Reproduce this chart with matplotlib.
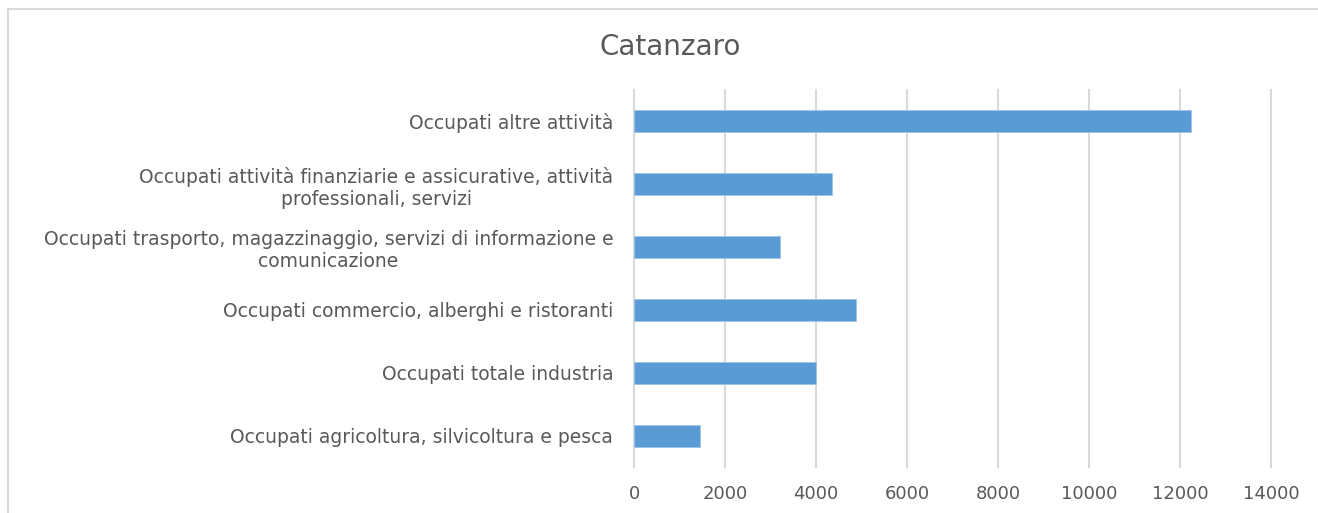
import matplotlib.pyplot as plt
from matplotlib.patches import Rectangle

categorie = [
    "Occupati agricoltura, silvicoltura e pesca",
    "Occupati totale industria",
    "Occupati commercio, alberghi e ristoranti",
    "Occupati trasporto, magazzinaggio, servizi di informazione e\ncomunicazione",
    "Occupati attività finanziarie e assicurative, attività\nprofessionali, servizi",
    "Occupati altre attività",
]
occupati = [1460, 3990, 4890, 3200, 4350, 12250]
xticks = [0, 2000, 4000, 6000, 8000, 10000, 12000, 14000]

plt.rcParams['font.family'] = ['DejaVu Sans']
grey = '#595959'

fig = plt.figure(figsize=(13.18, 5.13), dpi=100)
ax = fig.add_axes([634 / 1318, 1 - 467 / 513, 637 / 1318, 377 / 513])

ax.barh(range(len(categorie)), occupati, height=0.35, color='#5B9BD5',
        edgecolor='#9DC3E6', linewidth=0.6, zorder=3)

ax.set_xlim(0, 14000)
ax.set_ylim(-0.5, len(categorie) - 0.5)
ax.set_xticks(xticks)
ax.set_xticklabels([str(v) for v in xticks])
ax.set_yticks(range(len(categorie)))
ax.set_yticklabels(categorie, multialignment='center')
ax.grid(axis='x', color='#D9D9D9', linewidth=1.5, zorder=0)
for gl in ax.get_xgridlines():
    gl.set_clip_on(False)
ax.tick_params(axis='y', length=0, labelsize=13.5, colors=grey, pad=15)
ax.tick_params(axis='x', length=0, labelsize=13, colors=grey, pad=13)
for s in ax.spines.values():
    s.set_visible(False)

fig.text(670 / 1318, 1 - 47 / 513, "Catanzaro", ha='center', va='center',
         fontsize=20, color=grey)

fig.patches.append(Rectangle((8 / 1318, -0.1), 1.2, 1.1 - 9 / 513,
                             transform=fig.transFigure, fill=False,
                             edgecolor='#D9D9D9', linewidth=1.5))

fig.savefig('out.png', dpi=100)
